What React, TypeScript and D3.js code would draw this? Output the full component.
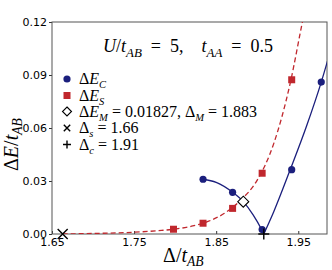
import { useEffect, useRef } from "react";
import * as d3 from "d3";

const BLUE = "#1b1f7d";
const RED = "#c0272d";

// ΔE_C (blue circles)
const deltaC = [1.834, 1.870, 1.906, 1.942, 1.978];
const energyC = [0.031, 0.0236, 0.0025, 0.0364, 0.086];

// ΔE_S (red squares)
const deltaS = [1.798, 1.834, 1.870, 1.906, 1.942];
const energyS = [0.0027, 0.0061, 0.0145, 0.0344, 0.0873];

// dashed red fit
const fitSx = [1.663, 1.70, 1.75, 1.78, 1.80, 1.82, 1.84, 1.86, 1.88, 1.90, 1.92, 1.94, 1.955, 1.962];
const fitSy = [0, 0.0003, 0.001, 0.0019, 0.0028, 0.0044, 0.0071, 0.0117, 0.0192, 0.0305, 0.051, 0.085, 0.12, 0.136];

// solid blue fit, two branches meeting at Δc
const fitCLx = [1.834, 1.85, 1.87, 1.883, 1.895, 1.905, 1.908];
const fitCLy = [0.031, 0.0292, 0.0236, 0.0183, 0.0108, 0.0028, 0];
const fitCRx = [1.908, 1.92, 1.94, 1.96, 1.978, 1.99];
const fitCRy = [0, 0.0125, 0.0362, 0.061, 0.086, 0.105];

const deltaM = 1.883, energyM = 0.01827;
const deltaSCross = 1.663, deltaCCross = 1.908;

const xTicks = [1.65, 1.75, 1.85, 1.95];
const yTicks = [0, 0.03, 0.06, 0.09, 0.12];

type Seg = { t: string; i?: boolean; sub?: boolean };

function mathText(sel: any, segs: Seg[], size: number, subScale = 0.72, drop = 0.3) {
  let inSub = false;
  segs.forEach(s => {
    const ts = sel.append("tspan").text(s.t)
      .style("font-style", s.i ? "italic" : "normal");
    if (s.sub && !inSub) { ts.attr("dy", size * drop).style("font-size", `${size * subScale}px`); inSub = true; }
    else if (s.sub) ts.style("font-size", `${size * subScale}px`);
    else if (!s.sub && inSub) { ts.attr("dy", -size * drop); inSub = false; }
  });
}

function draw(svgEl: SVGSVGElement) {
  const W = 332, H = 270;
  const L = 52, T = 22, R = 327, B = 234;
  const svg = d3.select(svgEl).attr("width", W).attr("height", H);
  svg.selectAll("*").remove();

  const x = d3.scaleLinear().domain([1.65, 1.985]).range([L, R]);
  const y = d3.scaleLinear().domain([0, 0.12]).range([B, T]);

  svg.append("defs").append("clipPath").attr("id", "plot-clip")
    .append("rect").attr("x", L).attr("y", T).attr("width", R - L).attr("height", B - T);

  const serif = "'Liberation Serif', 'DejaVu Serif', serif";
  const sans = "'DejaVu Sans', sans-serif";

  // axes
  svg.append("g").attr("transform", `translate(0,${B})`)
    .call(d3.axisBottom(x).tickValues(xTicks).tickFormat(d3.format(".2f")).tickSizeInner(-3).tickSizeOuter(0))
    .call(ax => {
      ax.select(".domain").remove();
      ax.selectAll("line").attr("stroke", "#333");
      ax.selectAll("text").attr("fill", "#000").style("font-family", sans).style("font-size", "11px").attr("y", 4).attr("dy", "0.71em");
    });
  svg.append("g").attr("transform", `translate(${L},0)`)
    .call(d3.axisLeft(y).tickValues(yTicks).tickFormat(d3.format(".2f")).tickSizeInner(3).tickSizeOuter(0))
    .call(ax => {
      ax.select(".domain").remove();
      ax.selectAll("line").attr("stroke", "#333");
      ax.selectAll("text").attr("fill", "#000").style("font-family", sans).style("font-size", "11px").attr("x", -5);
    });

  svg.append("rect").attr("x", L).attr("y", T).attr("width", R - L).attr("height", B - T)
    .attr("fill", "none").attr("stroke", "#555").attr("stroke-width", 1);

  const plot = svg.append("g").attr("clip-path", "url(#plot-clip)");
  const line = d3.line<[number, number]>().x(d => x(d[0])).y(d => y(d[1])).curve(d3.curveMonotoneX);

  plot.append("path").attr("d", line(fitSx.map((v, i) => [v, fitSy[i]]) as any))
    .attr("fill", "none").attr("stroke", RED).attr("stroke-width", 1.3).attr("stroke-dasharray", "5,3");
  plot.append("path").attr("d", line(fitCLx.map((v, i) => [v, fitCLy[i]]) as any))
    .attr("fill", "none").attr("stroke", BLUE).attr("stroke-width", 1.3);
  plot.append("path").attr("d", line(fitCRx.map((v, i) => [v, fitCRy[i]]) as any))
    .attr("fill", "none").attr("stroke", BLUE).attr("stroke-width", 1.3);

  deltaS.forEach((d, i) => {
    plot.append("rect").attr("x", x(d) - 3.5).attr("y", y(energyS[i]) - 3.5)
      .attr("width", 7).attr("height", 7).attr("fill", RED);
  });
  deltaC.forEach((d, i) => {
    plot.append("circle").attr("cx", x(d)).attr("cy", y(energyC[i])).attr("r", 3.6).attr("fill", BLUE);
  });

  const diamond = (g: any, cx: number, cy: number, r: number) =>
    g.append("path").attr("d", `M${cx},${cy - r}L${cx + r},${cy}L${cx},${cy + r}L${cx - r},${cy}Z`)
      .attr("fill", "#fff").attr("stroke", "#000").attr("stroke-width", 1.1);
  const cross = (g: any, cx: number, cy: number, r: number) =>
    g.append("path").attr("d", `M${cx - r},${cy - r}L${cx + r},${cy + r}M${cx - r},${cy + r}L${cx + r},${cy - r}`)
      .attr("stroke", "#000").attr("stroke-width", 1.4);
  const plus = (g: any, cx: number, cy: number, r: number) =>
    g.append("path").attr("d", `M${cx - r},${cy}L${cx + r},${cy}M${cx},${cy - r}L${cx},${cy + r}`)
      .attr("stroke", "#000").attr("stroke-width", 1.4);

  diamond(svg, x(deltaM), y(energyM), 5.5);
  cross(svg, x(deltaSCross), y(0), 5);
  plus(svg, x(deltaCCross), y(0), 5.5);

  // title
  const fs = 18;
  const title = svg.append("text").attr("x", 103).attr("y", 52)
    .style("font-family", serif).style("font-size", `${fs}px`).attr("fill", "#000")
    .style("white-space", "pre");
  mathText(title, [
    { t: "U", i: true }, { t: "/" }, { t: "t", i: true }, { t: "AB", i: true, sub: true },
    { t: "  =  5,    " }, { t: "t", i: true }, { t: "AA", i: true, sub: true }, { t: "  =  0.5" },
  ], fs);

  // legend
  const lx = 67, lt = 79;
  const ly = [79, 95.5, 111.5, 128, 144.5];
  const lfs = 16;
  const legendItems: Seg[][] = [
    [{ t: "Δ" }, { t: "E", i: true }, { t: "C", i: true, sub: true }],
    [{ t: "Δ" }, { t: "E", i: true }, { t: "S", i: true, sub: true }],
    [{ t: "Δ" }, { t: "E", i: true }, { t: "M", i: true, sub: true }, { t: " = 0.01827, Δ" }, { t: "M", i: true, sub: true }, { t: " = 1.883" }],
    [{ t: "Δ" }, { t: "s", i: true, sub: true }, { t: " = 1.66" }],
    [{ t: "Δ" }, { t: "c", i: true, sub: true }, { t: " = 1.91" }],
  ];
  svg.append("circle").attr("cx", lx).attr("cy", ly[0]).attr("r", 3.6).attr("fill", BLUE);
  svg.append("rect").attr("x", lx - 3.5).attr("y", ly[1] - 3.5).attr("width", 7).attr("height", 7).attr("fill", RED);
  diamond(svg, lx, ly[2], 4.5);
  cross(svg, lx, ly[3], 3.2);
  plus(svg, lx, ly[4], 4);
  legendItems.forEach((segs, i) => {
    const t = svg.append("text").attr("x", lt).attr("y", ly[i] + 5)
      .style("font-family", serif).style("font-size", `${lfs}px`).attr("fill", "#000");
    mathText(t, segs, lfs, 0.66, 0.25);
  });

  // axis labels
  const afs = 20;
  const xl = svg.append("text").attr("x", 163).attr("y", 262)
    .style("font-family", serif).style("font-size", `${afs}px`).attr("fill", "#000");
  mathText(xl, [{ t: "Δ" }, { t: "/" }, { t: "t", i: true }, { t: "AB", i: true, sub: true }], afs, 0.68, 0.22);

  const yl = svg.append("text").attr("transform", "translate(18,171) rotate(-90)")
    .style("font-family", serif).style("font-size", `${afs}px`).attr("fill", "#000");
  mathText(yl, [{ t: "Δ" }, { t: "E", i: true }, { t: "/" }, { t: "t", i: true }, { t: "AB", i: true, sub: true }], afs, 0.68, 0.22);
}

export default function App() {
  const ref = useRef<SVGSVGElement>(null);
  useEffect(() => {
    if (ref.current) draw(ref.current);
  }, []);
  return (
    <svg ref={ref} style={{ position: "absolute", left: 0, top: 0, display: "block", background: "#fff" }} />
  );
}
